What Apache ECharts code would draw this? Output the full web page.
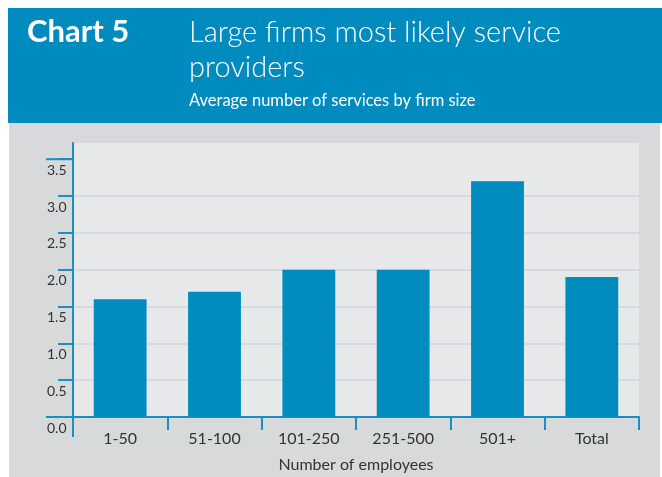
<!DOCTYPE html>
<html>
<head>
<meta charset="utf-8">
<script src="https://cdn.jsdelivr.net/npm/echarts@6/dist/echarts.min.js"></script>
<style>
  html, body { margin: 0; padding: 0; background: #ffffff; overflow: hidden; }
  #chart { width: 662px; height: 477px; }
</style>
</head>
<body>
<div id="chart"></div>
<script>
// Firm-size bands and the average number of services each provides
const categories = ['1-50', '51-100', '101-250', '251-500', '501+', 'Total'];
const avgServices = [1.6, 1.7, 2.0, 2.0, 3.2, 1.9];
const yTicks = [0, 0.5, 1.0, 1.5, 2.0, 2.5, 3.0, 3.5];

const BLUE = '#008bbf';
const AXIS_BLUE = '#1a8fc2';
const FONT = 'Lato';

const chart = echarts.init(document.getElementById('chart'), null, { renderer: 'canvas' });

const option = {
  animation: false,
  backgroundColor: '#ffffff',
  textStyle: { fontFamily: FONT },
  graphic: [
    { type: 'rect', z: -10, silent: true,
      shape: { x: 8, y: 8, width: 654, height: 115 },
      style: { fill: BLUE } },
    { type: 'rect', z: -10, silent: true,
      shape: { x: 9, y: 123, width: 651, height: 354 },
      style: { fill: '#d8d9db' } }
  ],
  title: [
    {
      text: 'Chart 5',
      left: 22, top: 9,
      textStyle: { color: '#ffffff', fontSize: 31, fontWeight: 'bold', fontFamily: FONT, lineHeight: 36 }
    },
    {
      text: 'Large firms most likely service\nproviders',
      subtext: 'Average number of services by firm size',
      left: 184, top: 10, itemGap: 6,
      textStyle: { color: '#ffffff', fontSize: 29, fontWeight: 300, fontFamily: FONT, lineHeight: 35 },
      subtextStyle: { color: '#ffffff', fontSize: 16.5, fontFamily: FONT, lineHeight: 20 }
    }
  ],
  grid: {
    left: 73, right: 23, top: 143, bottom: 60,
    show: true, backgroundColor: '#e7e8ea', borderWidth: 0,
    containLabel: false,
    outerBoundsMode: 'none'
  },
  xAxis: {
    type: 'category',
    data: categories,
    name: 'Number of employees',
    nameLocation: 'middle',
    nameGap: 40,
    nameTextStyle: { color: '#333333', fontSize: 16, fontFamily: FONT },
    axisLine: { lineStyle: { color: AXIS_BLUE, width: 2 } },
    axisTick: { show: true, length: 13, lineStyle: { color: AXIS_BLUE, width: 2 } },
    axisLabel: { color: '#333333', fontSize: 16, fontFamily: FONT, margin: 14 },
    splitLine: { show: false }
  },
  yAxis: {
    type: 'value',
    min: 0, max: 3.72,
    interval: 0.5,
    axisLine: { show: true, lineStyle: { color: AXIS_BLUE, width: 2 } },
    axisTick: { show: true, length: 15, customValues: yTicks,
                lineStyle: { color: AXIS_BLUE, width: 2 } },
    axisLabel: {
      customValues: yTicks,
      color: '#333333', fontSize: 14, fontFamily: FONT,
      align: 'left', verticalAlign: 'top', margin: 26, padding: [4, 0, 0, 0],
      lineHeight: 14,
      formatter: v => v.toFixed(1)
    },
    splitLine: { show: true, showMinLine: false, showMaxLine: false,
                 lineStyle: { color: '#d3d4d7', width: 1.5 } }
  },
  series: [{
    type: 'bar',
    data: avgServices,
    barWidth: '56%',
    itemStyle: { color: '#008cbe' }
  }]
};

chart.setOption(option);

// Longer ticks at 0.0 and 3.5 and the y axis running on below the baseline
const yZero = chart.convertToPixel({ yAxisIndex: 0 }, yTicks[0]);
const yTop = chart.convertToPixel({ yAxisIndex: 0 }, yTicks[yTicks.length - 1]);
const gx = chart.getModel().getComponent('grid', 0).coordinateSystem.getRect().x;
const lineStyle = { stroke: AXIS_BLUE, lineWidth: 2 };
chart.setOption({
  graphic: option.graphic.concat([
    { type: 'line', silent: true, shape: { x1: gx, y1: yZero, x2: gx, y2: yZero + 20 }, style: lineStyle },
    { type: 'line', silent: true, shape: { x1: gx - 27, y1: yZero, x2: gx, y2: yZero }, style: lineStyle },
    { type: 'line', silent: true, shape: { x1: gx - 27, y1: yTop, x2: gx, y2: yTop }, style: lineStyle }
  ])
});
</script>
</body>
</html>
